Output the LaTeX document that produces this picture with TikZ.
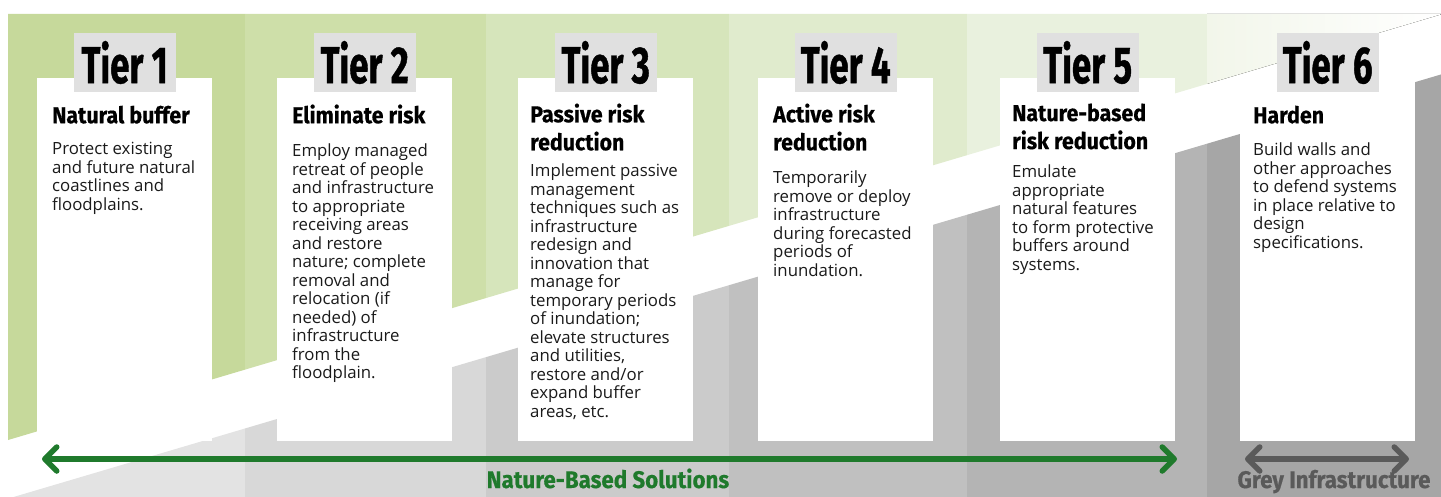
\documentclass[tikz,border=0pt]{standalone}
\usepackage{fontspec}
\setmainfont{Open Sans}
\newfontfamily\tierfont[FakeStretch=0.67, BoldFeatures={FakeBold=0.8}]{Fira Sans}
\newfontfamily\headfont[FakeStretch=0.93, BoldFeatures={FakeBold=0.5}]{Fira Sans}
\usetikzlibrary{arrows.meta, calc}

% column shades, greens on top and greys below the band
\definecolor{green1}{HTML}{C6D99B}
\definecolor{green2}{HTML}{CEDFA9}
\definecolor{green3}{HTML}{D6E5BB}
\definecolor{green4}{HTML}{E0EBCD}
\definecolor{green5}{HTML}{E9F1DE}
\definecolor{green6}{HTML}{F2F6EA}
\definecolor{grey1}{HTML}{E3E3E3}
\definecolor{grey2}{HTML}{D8D8D8}
\definecolor{grey3}{HTML}{CBCBCB}
\definecolor{grey4}{HTML}{C0C0C0}
\definecolor{grey5}{HTML}{B4B4B4}
\definecolor{grey6}{HTML}{A6A6A6}
\definecolor{tierbg}{HTML}{E0E0E0}
\definecolor{bodytext}{HTML}{1A1A1A}
\definecolor{nbsgreen}{HTML}{1F7A2C}
\definecolor{greyarrow}{HTML}{5A5A5A}

\begin{document}
\begin{tikzpicture}[
    x=1pt, y=-1pt,
    % --- Styles ---
    card/.style={fill=white, minimum width=175pt, minimum height=363pt, inner sep=0pt, anchor=north west},
    tier_box/.style={fill=tierbg, minimum width=102pt, minimum height=59pt, inner sep=0pt, text=black, font=\tierfont\bfseries\fontsize{52}{52}\selectfont},
    head_text/.style={anchor=north west, inner sep=0pt, align=left, text=black, font=\headfont\bfseries\fontsize{23}{28}\selectfont, execute at begin node=\strut},
    body_text/.style={anchor=north west, inner sep=0pt, align=left, text=bodytext, font=\fontsize{16.8}{18.5}\selectfont, execute at begin node=\strut},
    range_arrow/.style={line width=5.5pt, {Straight Barb[length=12pt, width=24pt, round]}-{Straight Barb[length=12pt, width=24pt, round]}},
    range_label/.style={anchor=base, inner sep=0pt, font=\headfont\bfseries\fontsize{24}{24}\selectfont},
]
    \useasboundingbox (0,0) rectangle (1441,497);

    % ==========================
    % 1. BACKGROUND COLUMNS + WHITE BAND
    % ==========================
    \begin{scope}
    \clip (0,0) rectangle (1441,497);
    \foreach \xa/\xb/\gc/\rc in {8/245/green1/grey1, 245/486/green2/grey2, 486/729/green3/grey3, 729/967/green4/grey4, 967/1207/green5/grey5, 1207/1441/green6/grey6} {
        \pgfmathsetmacro\ga{442.4-0.297*\xa}
        \pgfmathsetmacro\gb{442.4-0.297*\xb}
        \pgfmathsetmacro\ra{501-0.296*\xa}
        \pgfmathsetmacro\rb{501-0.296*\xb}
        \fill[\gc] (\xa,14) -- (\xb,14) -- (\xb,\gb) -- (\xa,\ga) -- cycle;
        \fill[\rc] (\xa,\ra) -- (\xb,\rb) -- (\xb,497) -- (\xa,497) -- cycle;
    }
    % last column fades out to the right
    \fill[left color=green6, right color=white] (1207,14) -- (1441,14) -- (1441,14.4) -- (1207,83.9) -- cycle;
    \end{scope}

    % ==========================
    % 2. CARDS
    % ==========================
    \node[card] (card1) at (37,78) {};
    \node[card] (card2) at (277,78) {};
    \node[card] (card3) at (518,78) {};
    \node[card] (card4) at (758,78) {};
    \node[card] (card5) at (1000,78) {};
    \node[card] (card6) at (1240,78) {};

    % tier labels sit over the top edge of each card
    \node[tier_box] (tier1) at ($(card1.north)+(0,-15.5)$) {Tier 1};
    \node[tier_box] (tier2) at ($(card2.north)+(0,-15.5)$) {Tier 2};
    \node[tier_box] (tier3) at ($(card3.north)+(0,-15.5)$) {Tier 3};
    \node[tier_box] (tier4) at ($(card4.north)+(0,-15.5)$) {Tier 4};
    \node[tier_box] (tier5) at ($(card5.north)+(0,-15.5)$) {Tier 5};
    \node[tier_box] (tier6) at ($(card6.north)+(0,-15.5)$) {Tier 6};

    % ==========================
    % 3. CARD TEXTS
    % ==========================
    \node[head_text] (head1) at ($(card1.north west)+(15,25.4)$) {Natural buffer};
    \node[body_text] (body1) at ($(card1.north west)+(15,64)$) {Protect existing\\and future natural\\coastlines and\\floodplains.};

    \node[head_text] (head2) at ($(card2.north west)+(15,25.4)$) {Eliminate risk};
    \node[body_text] (body2) at ($(card2.north west)+(15,66)$) {Employ managed\\retreat of people\\and infrastructure\\to appropriate\\receiving areas\\and restore\\nature; complete\\removal and\\relocation (if\\needed) of\\infrastructure\\from the\\floodplain.};

    \node[head_text] (head3) at ($(card3.north west)+(12,25.4)$) {Passive risk\\reduction};
    \node[body_text] (body3) at ($(card3.north west)+(12,86)$) {Implement passive\\management\\techniques such as\\infrastructure\\redesign and\\innovation that\\manage for\\temporary periods\\of inundation;\\elevate structures\\and utilities,\\restore and/or\\expand buffer\\areas, etc.};

    \node[head_text] (head4) at ($(card4.north west)+(15,25.4)$) {Active risk\\reduction};
    \node[body_text] (body4) at ($(card4.north west)+(15,93)$) {Temporarily\\remove or deploy\\infrastructure\\during forecasted\\periods of\\inundation.};

    \node[head_text] (head5) at ($(card5.north west)+(12,25.4)$) {Nature-based\\risk reduction};
    \node[body_text] (body5) at ($(card5.north west)+(12,87)$) {Emulate\\appropriate\\natural features\\to form protective\\buffers around\\systems.};

    \node[head_text] (head6) at ($(card6.north west)+(13,25.4)$) {Harden};
    \node[body_text] (body6) at ($(card6.north west)+(13,65)$) {Build walls and\\other approaches\\to defend systems\\in place relative to\\design\\specifications.};

    % ==========================
    % 4. RANGE ARROWS
    % ==========================
    \coordinate (nbs_w) at (42,459);
    \coordinate (nbs_e) at (1177,459);
    \coordinate (grey_w) at (1245,459);
    \coordinate (grey_e) at (1409,459);

    \draw[range_arrow, nbsgreen] (nbs_w) -- (nbs_e);
    \draw[range_arrow, greyarrow] (grey_w) -- (grey_e);

    \node[range_label, text=nbsgreen] (nbs_label) at (608,488) {Nature-Based Solutions};
    \node[range_label, text=greyarrow] (grey_label) at (1334,488) {Grey Infrastructure};

\end{tikzpicture}
\end{document}
